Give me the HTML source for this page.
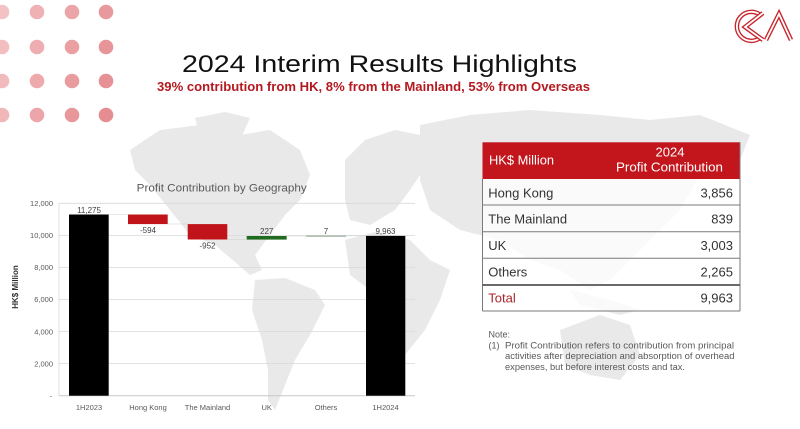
<!DOCTYPE html>
<html><head><meta charset="utf-8"><style>
html,body{margin:0;padding:0;background:#fff;}
svg{display:block;}
text{font-family:"Liberation Sans",sans-serif;}
</style></head><body>
<svg width="800" height="429" viewBox="0 0 800 429" xmlns="http://www.w3.org/2000/svg">
<rect width="800" height="429" fill="#fff"/>
<!-- world map (approximate) -->
<g fill="#e9e9e9">
<polygon points="130,150 160,130 200,125 240,135 270,130 300,150 310,175 300,200 285,215 270,235 255,255 262,270 250,275 235,262 215,245 190,235 170,210 150,185 135,170"/>
<polygon points="195,118 225,112 250,118 240,140 215,150 200,135"/>
<polygon points="255,280 285,278 315,290 325,305 310,335 295,360 285,385 275,410 268,400 268,370 262,340 252,310"/>
<polygon points="345,160 365,140 395,130 420,135 430,160 410,190 395,210 370,225 350,220 345,200"/>
<polygon points="345,240 375,232 410,240 430,260 450,270 440,300 425,330 405,355 390,350 380,320 370,290 350,275"/>
<polygon points="420,125 470,115 530,110 600,115 650,120 700,115 750,135 740,160 700,175 680,210 650,240 630,260 610,280 590,290 560,270 530,260 500,240 460,230 430,210 420,180"/>
<polygon points="570,290 610,300 640,310 620,315 580,305"/>
<polygon points="560,330 600,315 630,325 640,355 620,380 590,375 565,365"/>
</g>
<!-- dots -->
<g>
<circle cx="2" cy="12" r="7.3" fill="#f3c2c4"/><circle cx="37" cy="12" r="7.3" fill="#efb1b4"/><circle cx="72" cy="12" r="7.3" fill="#eba4a7"/><circle cx="106" cy="12" r="7.3" fill="#e8999d"/>
<circle cx="2" cy="47" r="7.3" fill="#f2bec0"/><circle cx="37" cy="47" r="7.3" fill="#eeadb0"/><circle cx="72" cy="47" r="7.3" fill="#eaa0a3"/><circle cx="106" cy="47" r="7.3" fill="#e79599"/>
<circle cx="2" cy="81" r="7.3" fill="#f1babc"/><circle cx="37" cy="81" r="7.3" fill="#eda9ac"/><circle cx="72" cy="81" r="7.3" fill="#e99c9f"/><circle cx="106" cy="81" r="7.3" fill="#e69195"/>
<circle cx="2" cy="115" r="7.3" fill="#f0b6b8"/><circle cx="37" cy="115" r="7.3" fill="#eca5a8"/><circle cx="72" cy="115" r="7.3" fill="#e8989b"/><circle cx="106" cy="115" r="7.3" fill="#e58d91"/>
</g>
<!-- logo -->
<g fill="none" stroke-linejoin="miter">
<path d="M759,14 A14.5,14.5 0 1 0 760,38" stroke="#c8242b" stroke-width="4.5"/>
<path d="M759,14 A14.5,14.5 0 1 0 760,38" stroke="#fff" stroke-width="1.8"/>
<path d="M763,13 L745,27 L763,40" stroke="#c8242b" stroke-width="4.5"/>
<path d="M763,13 L745,27 L763,40" stroke="#fff" stroke-width="1.8"/>
<path d="M766,40 L779,14 L791,40" stroke="#c8242b" stroke-width="4.5"/>
<path d="M766,40 L779,14 L791,40" stroke="#fff" stroke-width="1.8"/>
</g>
<!-- titles -->
<text x="182" y="72" font-size="24" fill="#111" textLength="395" lengthAdjust="spacingAndGlyphs">2024 Interim Results Highlights</text>
<text x="157" y="91" font-size="12.5" font-weight="bold" fill="#b3191f" textLength="433" lengthAdjust="spacingAndGlyphs">39% contribution from HK, 8% from the Mainland, 53% from Overseas</text>
<!-- chart -->
<text x="136.7" y="191.5" font-size="11" fill="#595959" textLength="170" lengthAdjust="spacingAndGlyphs">Profit Contribution by Geography</text>
<g stroke="#d9d9d9" stroke-width="0.8">
<line x1="59" y1="203.3" x2="415" y2="203.3"/>
<line x1="59" y1="235.5" x2="415" y2="235.5"/>
<line x1="59" y1="267.5" x2="415" y2="267.5"/>
<line x1="59" y1="299.5" x2="415" y2="299.5"/>
<line x1="59" y1="331.6" x2="415" y2="331.6"/>
<line x1="59" y1="363.6" x2="415" y2="363.6"/>
</g>
<line x1="59" y1="395.7" x2="415" y2="395.7" stroke="#c8c8c8" stroke-width="1"/>
<line x1="59" y1="203" x2="59" y2="396" stroke="#d9d9d9" stroke-width="0.8"/>
<g font-size="7.5" fill="#595959" text-anchor="end">
<text x="53" y="206">12,000</text>
<text x="53" y="238.2">10,000</text>
<text x="53" y="270.2">8,000</text>
<text x="53" y="302.2">6,000</text>
<text x="53" y="334.3">4,000</text>
<text x="53" y="366.3">2,000</text>
<text x="52" y="398.4">-</text>
</g>
<text transform="translate(18,287) rotate(-90)" font-size="8" font-weight="bold" fill="#333" text-anchor="middle">HK$ Million</text>
<!-- connectors -->
<g stroke="#d0d0d0" stroke-width="0.6">
<line x1="109" y1="214.5" x2="128" y2="214.5"/>
<line x1="168" y1="224" x2="188" y2="224"/>
<line x1="227" y1="239.5" x2="247" y2="239.5"/>
<line x1="287" y1="236" x2="306" y2="236"/>
<line x1="346" y1="235.8" x2="366" y2="235.8"/>
</g>
<rect x="69" y="214.5" width="39.7" height="181.2" fill="#000"/>
<rect x="128" y="214.5" width="39.7" height="9.6" fill="#c0141a"/>
<rect x="187.7" y="224.1" width="39.6" height="15.4" fill="#c0141a"/>
<rect x="246.7" y="236" width="40" height="3.6" fill="#1f6b1f"/>
<rect x="306" y="235.6" width="40" height="1" fill="#8a9a8a"/>
<rect x="366" y="235.9" width="39.3" height="159.8" fill="#000"/>
<g font-size="8" fill="#404040" text-anchor="middle">
<text x="89" y="213">11,275</text>
<text x="148" y="233">-594</text>
<text x="207.5" y="248.5">-952</text>
<text x="266.7" y="234">227</text>
<text x="326" y="234">7</text>
<text x="385.5" y="234">9,963</text>
</g>
<g font-size="7.5" fill="#595959" text-anchor="middle">
<text x="89" y="410">1H2023</text>
<text x="148" y="410">Hong Kong</text>
<text x="207.5" y="410">The Mainland</text>
<text x="266.7" y="410">UK</text>
<text x="326" y="410">Others</text>
<text x="385.5" y="410">1H2024</text>
</g>
<!-- table -->
<rect x="482.5" y="179" width="257.5" height="132" fill="#fff" fill-opacity="0.75"/>
<rect x="482.5" y="142.3" width="257.5" height="36.7" fill="#c2161c"/>
<g stroke="#7a7a7a" stroke-width="1" fill="none">
<line x1="482.5" y1="205" x2="740" y2="205"/>
<line x1="482.5" y1="231.7" x2="740" y2="231.7"/>
<line x1="482.5" y1="258.3" x2="740" y2="258.3"/>
<line x1="482.5" y1="311" x2="740" y2="311"/>
<line x1="482.5" y1="179" x2="482.5" y2="311"/>
<line x1="740" y1="142.3" x2="740" y2="311"/>
</g>
<line x1="482.5" y1="285" x2="740" y2="285" stroke="#555" stroke-width="1.8"/>
<g fill="#fff" font-size="13">
<text x="489" y="164.3" textLength="65" lengthAdjust="spacingAndGlyphs">HK$ Million</text>
<text x="670" y="156.7" text-anchor="middle">2024</text>
<text x="616" y="171.7" textLength="107" lengthAdjust="spacingAndGlyphs">Profit Contribution</text>
</g>
<g font-size="13" fill="#333">
<text x="488.3" y="197.5">Hong Kong</text>
<text x="488.3" y="223.5">The Mainland</text>
<text x="488.3" y="250">UK</text>
<text x="488.3" y="276.7">Others</text>
<text x="488.3" y="302.7" fill="#a8262b">Total</text>
</g>
<g font-size="13" fill="#333" text-anchor="end">
<text x="733" y="197.5">3,856</text>
<text x="733" y="223.5">839</text>
<text x="733" y="250">3,003</text>
<text x="733" y="276.7">2,265</text>
<text x="733" y="302.7">9,963</text>
</g>
<!-- note -->
<g font-size="9" fill="#595959">
<text x="488.5" y="337.5">Note:</text>
<text x="488.5" y="348.5">(1)</text>
<text x="505" y="348.5" textLength="229" lengthAdjust="spacingAndGlyphs">Profit Contribution refers to contribution from principal</text>
<text x="505" y="359" textLength="229.5" lengthAdjust="spacingAndGlyphs">activities after depreciation and absorption of overhead</text>
<text x="505" y="369.8" textLength="180" lengthAdjust="spacingAndGlyphs">expenses, but before interest costs and tax.</text>
</g>
</svg>
</body></html>
